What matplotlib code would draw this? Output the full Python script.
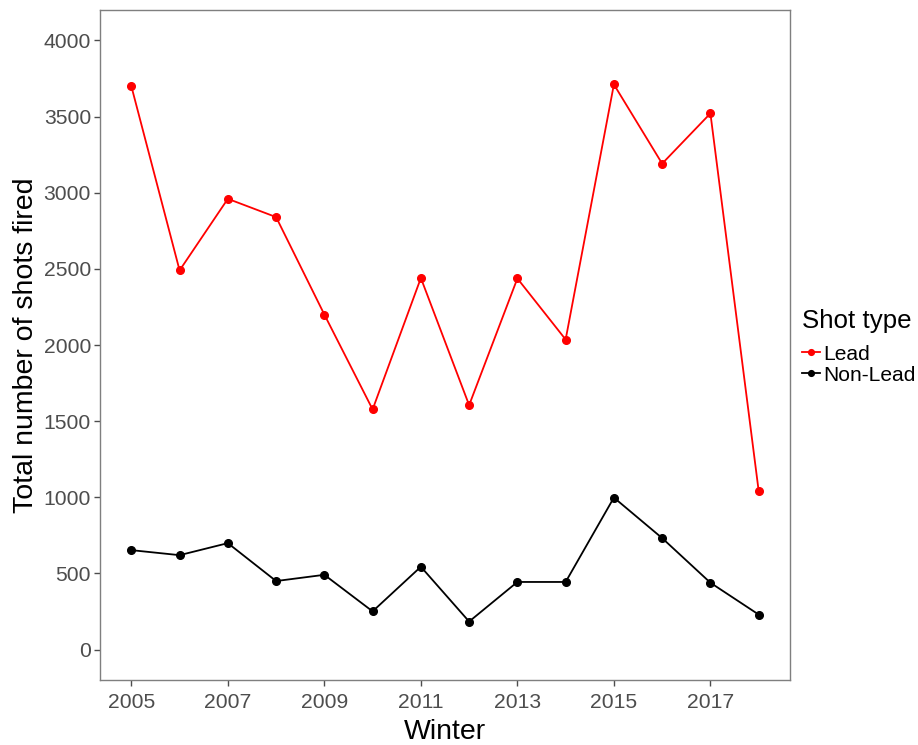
import matplotlib.pyplot as plt

plt.rcParams['font.family'] = ['Liberation Sans', 'DejaVu Sans']

# Shots fired per winter
years = [2005, 2006, 2007, 2008, 2009, 2010, 2011, 2012, 2013, 2014, 2015, 2016, 2017, 2018]
lead = [3700, 2490, 2960, 2840, 2200, 1577, 2440, 1605, 2437, 2036, 3711, 3191, 3521, 1042]
non_lead = [653, 620, 699, 450, 491, 251, 544, 184, 444, 444, 998, 732, 439, 230]

xticks = [2005, 2007, 2009, 2011, 2013, 2015, 2017]
yticks = [0, 500, 1000, 1500, 2000, 2500, 3000, 3500, 4000]

fig = plt.figure(figsize=(9.18, 7.45), dpi=100)
ax = fig.add_axes([0.1089, 0.0872, 0.7517, 0.8994])

ax.plot(years, lead, color='#FF0000', lw=1.3, marker='o', ms=5.5, label='Lead')
ax.plot(years, non_lead, color='black', lw=1.3, marker='o', ms=5.5, label='Non-Lead')

ax.set_xlim(2004.35, 2018.65)
ax.set_ylim(-200, 4200)
ax.set_xticks(xticks)
ax.set_yticks(yticks)
ax.tick_params(labelsize=15.2, colors='#4D4D4D', length=4, width=1, labelcolor='#4D4D4D')
ax.tick_params(axis='x', pad=5.5)
ax.tick_params(axis='y', pad=2.5)
for s in ax.spines.values():
    s.set_color('#7F7F7F')
    s.set_linewidth(1)

ax.set_xlabel('Winter', fontsize=20.5, labelpad=5)
ax.set_ylabel('Total number of shots fired', fontsize=20.5, labelpad=3)

leg = fig.legend(loc='upper left', bbox_to_anchor=(0.8736, 0.5846), frameon=False,
                 title='Shot type', fontsize=15.1, title_fontsize=18.6,
                 handlelength=0.85, handletextpad=0.15, labelspacing=0.1,
                 borderaxespad=0, borderpad=0, markerscale=0.75)
leg._legend_box.align = 'left'
leg._legend_box.sep = 8

fig.savefig('out.png', dpi=100)
